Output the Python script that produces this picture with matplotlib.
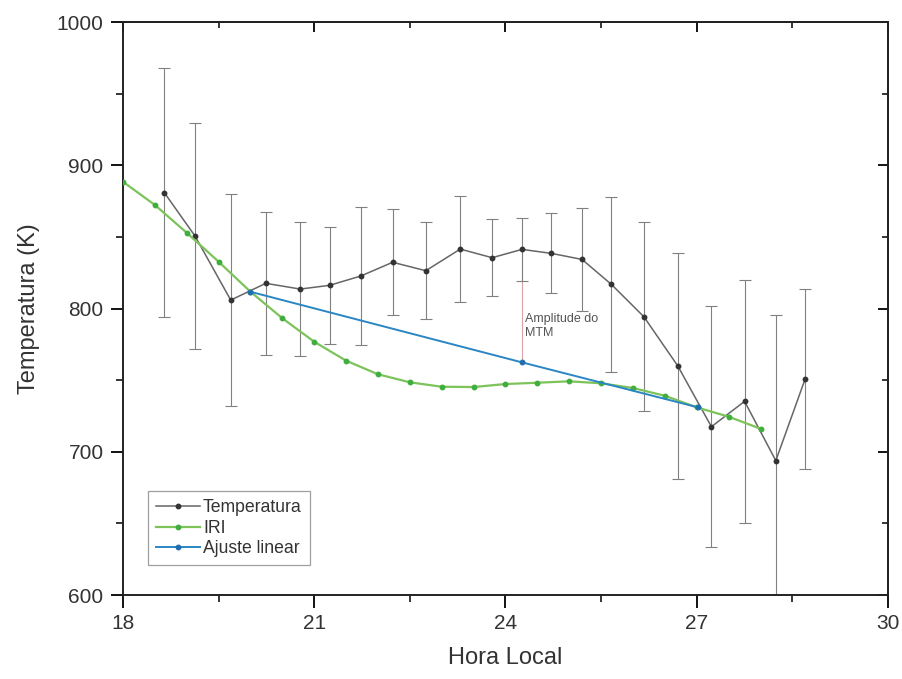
"""
Temperatura observada vs IRI, com ajuste linear
"""
import numpy as np
import matplotlib
matplotlib.use('Agg')
import matplotlib.pyplot as plt
from matplotlib.ticker import MultipleLocator

plt.rcParams['font.family'] = ['Liberation Sans', 'DejaVu Sans']

# Temperatura (media) com barra de erro
temp_hour = [18.65, 19.13, 19.69, 20.24, 20.78, 21.24, 21.73, 22.23, 22.75, 23.29, 23.79,
             24.26, 24.72, 25.20, 25.66, 26.17, 26.70, 27.23, 27.75, 28.24, 28.70]
temp_val = [880.8, 850.6, 805.9, 817.6, 813.6, 816.2, 822.7, 832.3, 826.4, 841.5, 835.5,
            841.3, 838.5, 834.3, 816.9, 794.3, 760.1, 717.5, 735.2, 693.8, 750.8]
temp_err = [87, 79, 74, 50, 47, 41, 48, 37, 34, 37, 27,
            22, 28, 36, 61, 66, 79, 84, 85, 102, 63]

# Modelo IRI
iri_hour = [18.0, 18.5, 19.0, 19.5, 20.0, 20.5, 21.0, 21.5, 22.0, 22.5, 23.0,
            23.5, 24.0, 24.5, 25.0, 25.5, 26.0, 26.5, 27.0, 27.5, 28.0]
iri_val = [888.5, 872.3, 852.9, 832.7, 811.7, 793.2, 776.8, 763.6, 754.1, 748.5, 745.4,
           745.2, 747.3, 748.2, 749.2, 747.8, 744.5, 739.1, 731.0, 724.5, 716.1]

# Ajuste linear
fit_hour = [20.0, 24.26, 27.02]
fit_val = [811.7, 762.4, 731.0]

# Amplitude do MTM (linha vertical)
mtm_hour = 24.26
mtm_low, mtm_high = 762.4, 841.3

fig = plt.figure(figsize=(9.03, 6.79), dpi=100)
ax = fig.add_axes([0.1362, 0.1237, 0.8472, 0.8438])

ax.errorbar(temp_hour, temp_val, yerr=temp_err, fmt='none', ecolor='#808080',
            elinewidth=0.8, capsize=4.5, capthick=0.8, zorder=2)
ax.plot(temp_hour, temp_val, '-o', color='#666666', lw=1.1, ms=3.2,
        mfc='#333333', mec='#333333', label='Temperatura', zorder=3)
ax.plot(iri_hour, iri_val, '-o', color='#7cc35a', lw=1.6, ms=3.2,
        mfc='#3fae3f', mec='#3fae3f', label='IRI', zorder=4)
ax.plot(fit_hour, fit_val, '-o', color='#2a86c4', lw=1.4, ms=3.2,
        mfc='#1f6fb0', mec='#1f6fb0', label='Ajuste linear', zorder=5)
ax.plot([mtm_hour, mtm_hour], [mtm_low, mtm_high], color='#d9a3a3', lw=0.8, zorder=1)
ax.text(mtm_hour + 0.04, 797, 'Amplitude do\nMTM', fontsize=9, color='#555555',
        va='top', ha='left', linespacing=1.2)

ax.set_xlim(18, 30)
ax.set_ylim(600, 1000)
ax.xaxis.set_major_locator(MultipleLocator(3))
ax.xaxis.set_minor_locator(MultipleLocator(1.5))
ax.yaxis.set_major_locator(MultipleLocator(100))
ax.yaxis.set_minor_locator(MultipleLocator(50))
ax.tick_params(which='major', direction='out', length=9, width=1.3,
               labelsize=15, labelcolor='#333333', pad=5)
ax.tick_params(which='minor', direction='out', length=5, width=1.1)

# ticks internos nos eixos espelhados
top = ax.secondary_xaxis('top')
top.xaxis.set_major_locator(MultipleLocator(3))
top.xaxis.set_minor_locator(MultipleLocator(1.5))
top.tick_params(which='major', direction='in', length=7, width=1.3, labeltop=False)
top.tick_params(which='minor', direction='in', length=4, width=1.1)
right = ax.secondary_yaxis('right')
right.yaxis.set_major_locator(MultipleLocator(100))
right.yaxis.set_minor_locator(MultipleLocator(50))
right.tick_params(which='major', direction='in', length=7, width=1.3, labelright=False)
right.tick_params(which='minor', direction='in', length=4, width=1.1)
for s in list(ax.spines.values()) + [top.spines['top'], right.spines['right']]:
    s.set_linewidth(1.4)
    s.set_color('#222222')

ax.set_xlabel('Hora Local', fontsize=17, color='#333333', labelpad=10)
ax.set_ylabel('Temperatura (K)', fontsize=17, color='#333333', labelpad=12)

leg = ax.legend(loc='lower left', bbox_to_anchor=(0.033, 0.052), borderaxespad=0,
                fontsize=12.7, frameon=True, fancybox=False, handlelength=2.5,
                handletextpad=0.15, labelspacing=0.2, borderpad=0.45)
leg.get_frame().set_edgecolor('#888888')
leg.get_frame().set_linewidth(0.9)
for t in leg.get_texts():
    t.set_color('#333333')

plt.savefig('out.png', dpi=100)
